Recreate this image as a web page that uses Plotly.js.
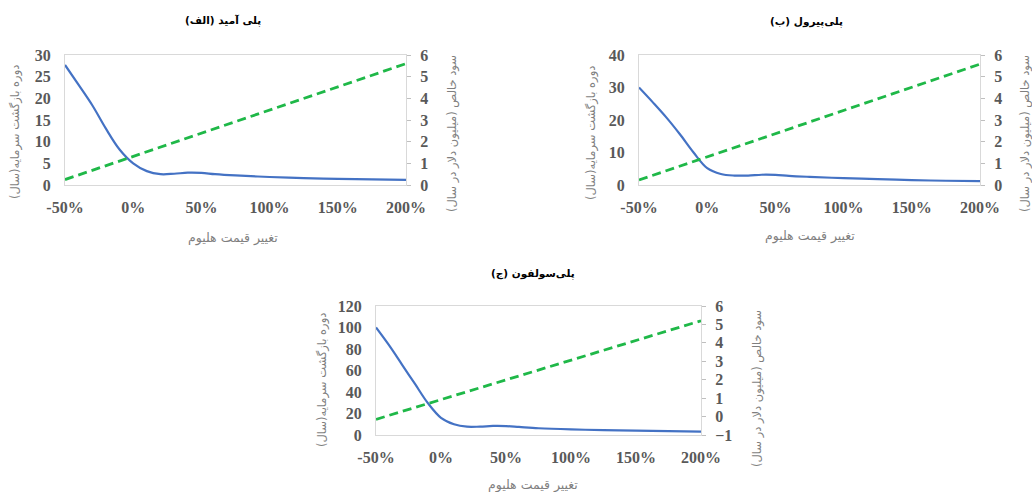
<!DOCTYPE html>
<html>
<head>
<meta charset="utf-8">
<script src="https://cdn.plot.ly/plotly-3.0.1.min.js"></script>
<style>
  html, body { margin: 0; padding: 0; background: #ffffff; }
  #chart { width: 1032px; height: 492px; }
</style>
</head>
<body>
<div id="chart"></div>
<script>
// ---------------- DATA ----------------
// Helium price change (%) – x positions of the payback-period curves
const priceChange = [-50, -40, -30, -20, -10, 0, 10, 20, 30, 40, 50, 60, 75, 100, 125, 150, 175, 200];
// Helium price change (%) – x positions of the net-profit lines
const priceChangeProfit = [-50, 0, 50, 100, 150, 200];

// (الف) پلی آمید
const paybackPolyamide = [27.7, 23.1, 18.4, 13.0, 8.2, 5.0, 3.2, 2.5, 2.6, 2.85, 2.8, 2.5, 2.2, 1.85, 1.6, 1.4, 1.3, 1.2];
const profitPolyamide  = [0.25, 1.32, 2.39, 3.46, 4.53, 5.60];

// (ب) پلی‌پیرول
const paybackPolypyrrole = [30.0, 25.5, 20.8, 15.6, 10.0, 5.2, 3.4, 2.9, 2.9, 3.15, 3.1, 2.8, 2.5, 2.1, 1.8, 1.5, 1.3, 1.2];
const profitPolypyrrole  = [0.23, 1.30, 2.37, 3.44, 4.51, 5.58];

// (ج) پلی‌سولفون
const paybackPolysulfone = [100, 83.5, 65.5, 47.5, 29.5, 16.0, 10.0, 7.7, 7.8, 8.4, 8.3, 7.5, 6.3, 5.2, 4.5, 4.0, 3.6, 3.2];
const profitPolysulfone  = [-0.15, 0.92, 1.99, 3.06, 4.13, 5.20];

// tick labels
const xTickVals = [-50, 0, 50, 100, 150, 200];
const xTickText = ['-50%', '0%', '50%', '100%', '150%', '200%'];

// texts
const panelTitles = ['پلی آمید (الف)', 'پلی‌پیرول (ب)', 'پلی‌سولفون (ج)'];
const xTitle = 'تغییر قیمت هلیوم';
const yLeftTitle = 'دوره بازگشت سرمایه(سال)';
const yRightTitle = 'سود خالص (میلیون دلار در سال)';

// ---------------- STYLE ----------------
const W = 1032, H = 492;
const px = x => x / W;
const py = y => 1 - y / H;

const BLUE = '#4472C4';
const GREEN = '#1FB848';
const BORDER = '#d9d9d9';
const TICKCOL = '#595959';
const tickFont = { family: '"Liberation Serif", "Times New Roman", serif', size: 16, color: TICKCOL, weight: 'bold' };
const faFontX = { family: '"DejaVu Sans", "Noto Sans", sans-serif', size: 12.5, color: '#7f7f7f' };
const faFontY = { family: '"DejaVu Sans", "Noto Sans", sans-serif', size: 11.5, color: '#7f7f7f' };
const titleFont = { family: '"DejaVu Sans", "Noto Sans", sans-serif', size: 10.5, color: '#000000', weight: 'bold' };

// panel plot areas in pixels [left, right, top, bottom]
const panels = [
  { box: [65, 406, 55, 185], yl: [0, 30], dyl: 5, yr: [0, 6] },
  { box: [639, 980, 55, 185], yl: [0, 40], dyl: 10, yr: [0, 6] },
  { box: [376, 701, 306, 435], yl: [0, 120], dyl: 20, yr: [-1, 6] }
];
const payback = [paybackPolyamide, paybackPolypyrrole, paybackPolysulfone];
const profit = [profitPolyamide, profitPolypyrrole, profitPolysulfone];

const data = [];
const layout = {
  width: W, height: H,
  margin: { l: 0, r: 0, t: 0, b: 0 },
  paper_bgcolor: '#ffffff',
  plot_bgcolor: '#ffffff',
  showlegend: false,
  annotations: []
};

panels.forEach((p, i) => {
  const n = i + 1;
  const xName = n === 1 ? 'x' : 'x' + n;
  const yL = 2 * i + 1 === 1 ? 'y' : 'y' + (2 * i + 1);
  const yR = 'y' + (2 * i + 2);
  const xKey = n === 1 ? 'xaxis' : 'xaxis' + n;
  const yLKey = 2 * i + 1 === 1 ? 'yaxis' : 'yaxis' + (2 * i + 1);
  const yRKey = 'yaxis' + (2 * i + 2);
  const [l, r, t, b] = p.box;

  data.push({
    x: priceChange, y: payback[i], type: 'scatter', mode: 'lines',
    line: { color: BLUE, width: 2.2, shape: 'spline', smoothing: 1 },
    xaxis: xName, yaxis: yL, hoverinfo: 'skip'
  });
  data.push({
    x: priceChangeProfit, y: profit[i], type: 'scatter', mode: 'lines',
    line: { color: GREEN, width: 2.8, dash: '9px,5px' },
    xaxis: xName, yaxis: yR, hoverinfo: 'skip'
  });

  layout[xKey] = {
    domain: [px(l), px(r)], anchor: yL,
    range: [-50, 200], tickvals: xTickVals, ticktext: xTickText,
    showgrid: false, zeroline: false, showline: true, mirror: true,
    linecolor: BORDER, linewidth: 1, ticks: '', ticklabelstandoff: 8,
    tickfont: tickFont, fixedrange: true
  };
  layout[yLKey] = {
    domain: [py(b), py(t)], anchor: xName, range: p.yl, dtick: p.dyl, tick0: 0,
    showgrid: false, zeroline: false, showline: true, mirror: true,
    linecolor: BORDER, linewidth: 1, ticks: '', ticklabelstandoff: 10,
    tickfont: tickFont, fixedrange: true
  };
  layout[yRKey] = {
    overlaying: yL, side: 'right', anchor: xName, range: p.yr, dtick: 1, tick0: 0,
    showgrid: false, zeroline: false, showline: true, linecolor: BORDER, linewidth: 1,
    ticks: 'outside', ticklen: 4, tickcolor: '#bfbfbf', ticklabelstandoff: 6,
    tickfont: tickFont, fixedrange: true
  };
});

// titles and axis titles (pixel positions)
const ann = (text, x, y, font, angle) => layout.annotations.push({
  text, x: px(x), y: py(y), xref: 'paper', yref: 'paper',
  xanchor: 'center', yanchor: 'middle', showarrow: false, font, textangle: angle || 0
});

ann(panelTitles[0], 223, 20, titleFont);
ann(panelTitles[1], 806, 22, titleFont);
ann(panelTitles[2], 533, 273, titleFont);

ann(xTitle, 233, 238, faFontX);
ann(xTitle, 810, 236, faFontX);
ann(xTitle, 533, 485, faFontX);

ann(yLeftTitle, 15, 132, faFontY, -90);
ann(yLeftTitle, 592, 133, faFontY, -90);
ann(yLeftTitle, 322, 380, faFontY, -90);

ann(yRightTitle, 452, 134, faFontY, -90);
ann(yRightTitle, 1025, 134, faFontY, -90);
ann(yRightTitle, 757, 389, faFontY, -90);

Plotly.newPlot('chart', data, layout, { staticPlot: true, displayModeBar: false });
</script>
</body>
</html>
